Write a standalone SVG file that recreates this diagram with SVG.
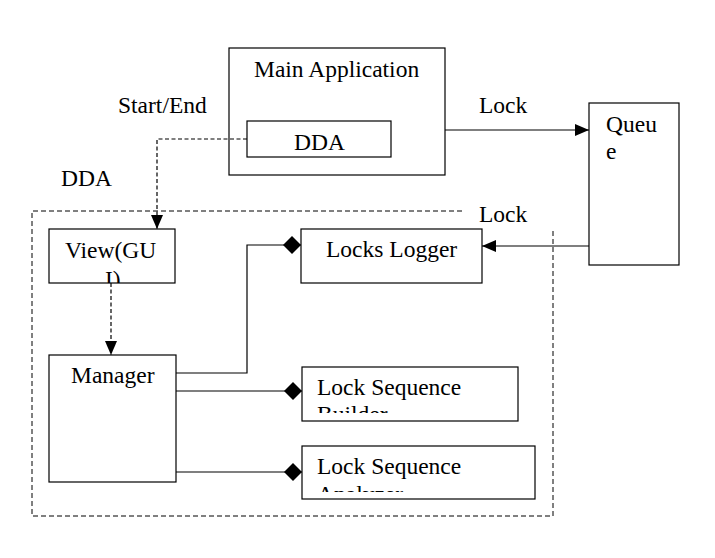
<svg xmlns="http://www.w3.org/2000/svg" width="715" height="558" viewBox="0 0 715 558">
<style>
  .box { fill: #fff; stroke: #000; stroke-width: 1.2; }
  .t { font-family: 'Liberation Serif', 'Times New Roman', Tinos, 'DejaVu Serif', serif; font-size: 23.5px; fill: #000; }
  .ln { fill: none; stroke: #000; stroke-width: 1.2; }
  .dash { fill: none; stroke: #000; stroke-width: 1.2; stroke-dasharray: 4,2.5; }
  .bound { fill: none; stroke: #000; stroke-width: 1; stroke-dasharray: 5,3; }
</style>
<defs>
  <marker id="arrow" markerUnits="userSpaceOnUse" viewBox="0 0 14 12" markerWidth="14" markerHeight="12" refX="14" refY="6" orient="auto">
    <path d="M0,0 L14,6 L0,12 Z" fill="#000"/>
  </marker>
  <marker id="diamond" markerUnits="userSpaceOnUse" viewBox="0 0 18 18" markerWidth="18" markerHeight="18" refX="18" refY="9" orient="auto">
    <path d="M0,9 L9,0 L18,9 L9,18 Z" fill="#000"/>
  </marker>
  <clipPath id="clipView"><rect x="49" y="229" width="126" height="54"/></clipPath>
  <clipPath id="clipBuilder"><rect x="302" y="367" width="216" height="46"/></clipPath>
  <clipPath id="clipAnalyzer"><rect x="302" y="446" width="233" height="46"/></clipPath>
</defs>
<rect width="715" height="558" fill="#fff"/>

<path class="bound" d="M462,211 H32 V516 H553 V230"/>

<g id="labels">
  <text class="t" x="118" y="113">Start/End</text>
  <text class="t" x="61" y="186">DDA</text>
  <text class="t" x="479" y="113">Lock</text>
  <text class="t" x="479" y="222">Lock</text>
</g>

<g id="main-application">
  <rect class="box" x="229" y="48" width="216" height="127"/>
  <text class="t" x="254" y="77">Main Application</text>
</g>
<g id="dda">
  <rect class="box" x="247" y="121" width="144" height="36"/>
  <text class="t" x="294" y="150">DDA</text>
</g>
<g id="queue">
  <rect class="box" x="589" y="103" width="90" height="162"/>
  <text class="t" x="606" y="132">Queu<tspan x="606" y="158.5">e</tspan></text>
</g>
<g id="view">
  <rect class="box" x="49" y="229" width="126" height="54"/>
  <g clip-path="url(#clipView)">
    <text class="t" x="65" y="258">View(GU<tspan x="105" y="287">I)</tspan></text>
  </g>
</g>
<g id="manager">
  <rect class="box" x="49" y="355" width="127" height="127"/>
  <text class="t" x="71" y="383">Manager</text>
</g>
<g id="locks-logger">
  <rect class="box" x="301" y="229" width="181" height="54"/>
  <text class="t" x="326" y="257">Locks Logger</text>
</g>
<g id="lock-sequence-builder">
  <rect class="box" x="302" y="367" width="216" height="54"/>
  <g clip-path="url(#clipBuilder)">
    <text class="t" x="317" y="395">Lock Sequence<tspan x="317" y="422">Builder</tspan></text>
  </g>
</g>
<g id="lock-sequence-analyzer">
  <rect class="box" x="302" y="446" width="233" height="53"/>
  <g clip-path="url(#clipAnalyzer)">
    <text class="t" x="317" y="474">Lock Sequence<tspan x="317" y="502">Analyzer</tspan></text>
  </g>
</g>

<g id="connectors">
  <path class="dash" d="M247,139 H157 V229" marker-end="url(#arrow)"/>
  <path class="dash" d="M111,283 V355" marker-end="url(#arrow)"/>
  <path class="ln" d="M445,130 H589" marker-end="url(#arrow)"/>
  <path class="ln" d="M589,246 H482" marker-end="url(#arrow)"/>
  <path class="ln" d="M176,373 H247 V245 H301" marker-end="url(#diamond)"/>
  <path class="ln" d="M176,391 H302" marker-end="url(#diamond)"/>
  <path class="ln" d="M176,472 H302" marker-end="url(#diamond)"/>
</g>
</svg>
